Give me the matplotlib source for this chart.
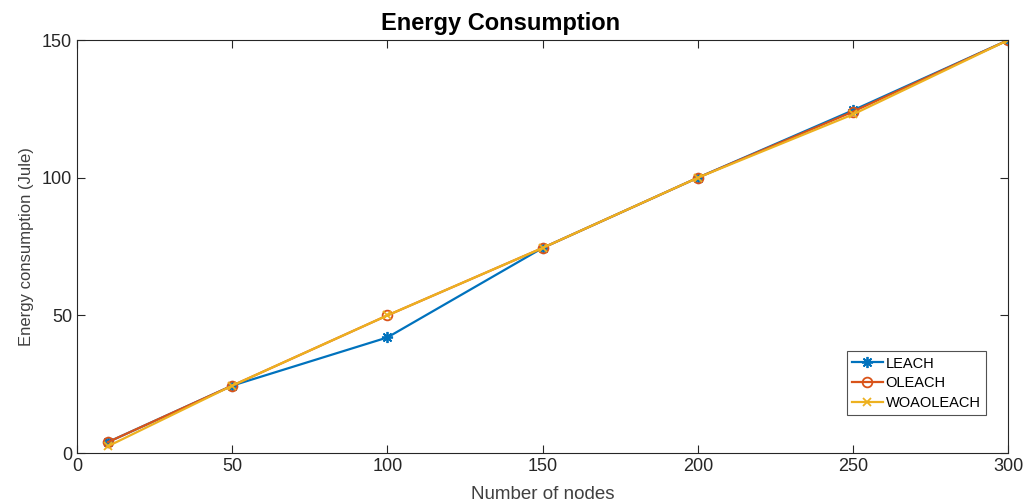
import matplotlib
matplotlib.use("Agg")
import matplotlib.pyplot as plt

nodes = [10, 50, 100, 150, 200, 250, 300]
leach = [4.0, 24.5, 42.0, 74.5, 100.0, 124.5, 150.0]
oleach = [4.0, 24.5, 50.0, 74.5, 100.0, 124.0, 150.0]
woaoleach = [2.5, 24.5, 50.0, 74.5, 100.0, 123.0, 150.0]

plt.rcParams['font.family'] = ['Liberation Sans', 'DejaVu Sans']

fig = plt.figure(figsize=(10.29, 5.04), dpi=100)
ax = fig.add_axes([0.0748, 0.101, 0.905, 0.8195])

ax.plot(nodes, leach, color='#0072BD', marker=(8, 2, 0), markersize=8, markeredgewidth=1.3,
        linewidth=1.6, label='LEACH')
ax.plot(nodes, oleach, color='#D95319', marker='o', markersize=7, markerfacecolor='none',
        markeredgewidth=1.3, linewidth=1.6, label='OLEACH')
ax.plot(nodes, woaoleach, color='#EDB120', marker='x', markersize=6, markeredgewidth=1.3,
        linewidth=1.6, label='WOAOLEACH')

ax.set_xlim(0, 300)
ax.set_ylim(0, 150)
ax.set_xticks([0, 50, 100, 150, 200, 250, 300])
ax.set_yticks([0, 50, 100, 150])
ax.tick_params(direction='in', top=True, right=True, labelsize=13, length=6,
               colors='#262626', labelcolor='#262626')
for s in ax.spines.values():
    s.set_color('#262626')
    s.set_linewidth(0.8)

fig.text(501 / 1029, 1 - 30 / 504, 'Energy Consumption', fontsize=17, fontweight='bold',
         ha='center', va='baseline', color='black')
ax.set_xlabel('Number of nodes', fontsize=13.5, color='#404040', labelpad=8)
ax.set_ylabel('Energy consumption (Jule)', fontsize=12, color='#404040', labelpad=6)

leg = ax.legend(loc='lower right', bbox_to_anchor=(0.958, 0.176), bbox_transform=fig.transFigure,
                borderaxespad=0, fontsize=10.5, frameon=True, fancybox=False, edgecolor='#262626',
                handlelength=2.1, borderpad=0.35, labelspacing=0.4, handletextpad=0.2)
leg.get_frame().set_linewidth(0.8)

fig.savefig('out.png', dpi=100)
